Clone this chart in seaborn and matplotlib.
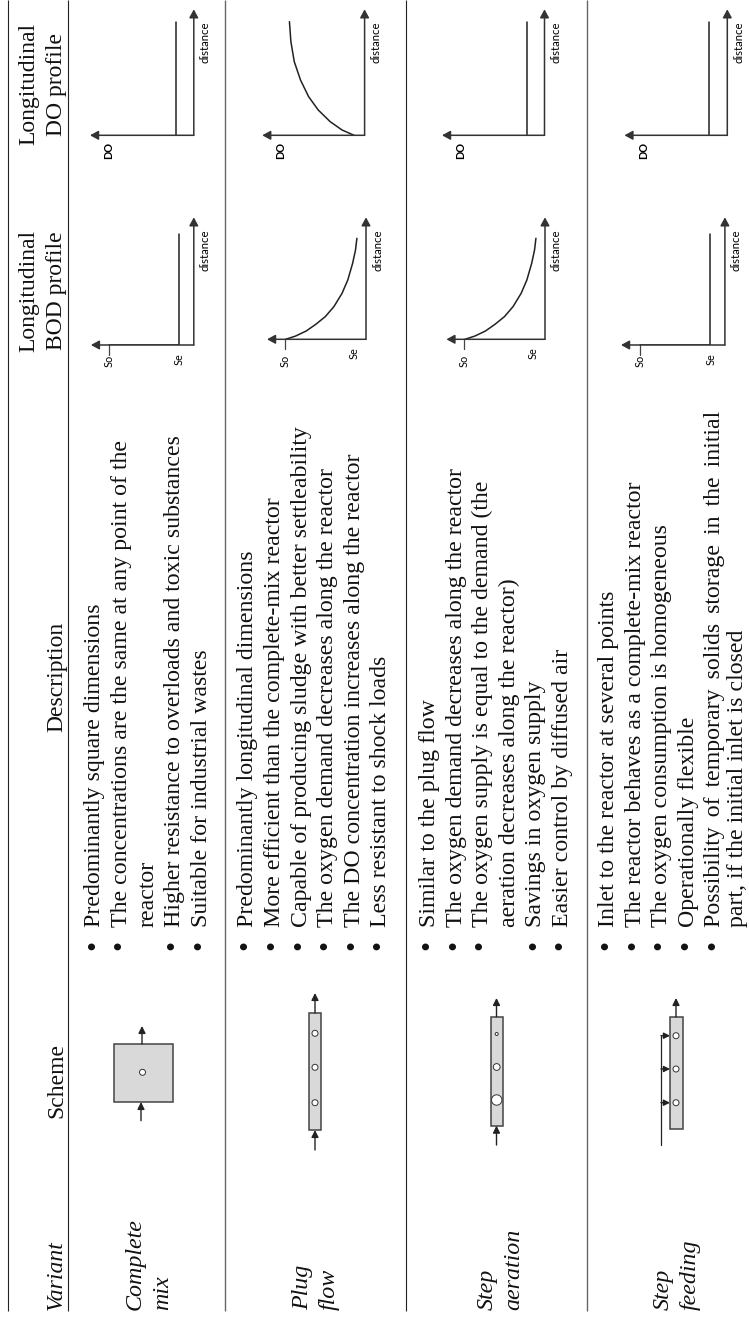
"""Activated sludge variants table, rotated page layout."""
import matplotlib
matplotlib.use("Agg")
import matplotlib.pyplot as plt
from matplotlib.patches import Rectangle, Circle
import seaborn as sns

W, H = 749, 1319
SERIF = ["Liberation Serif", "DejaVu Serif"]
INK = "#222222"

VARIANTS = [["Complete", "mix"], ["Plug", "flow"], ["Step", "aeration"], ["Step", "feeding"]]
HEADERS = ["Scheme", "Description"]
HEADER_PROFILES = [["Longitudinal", "BOD profile"], ["Longitudinal", "DO profile"]]

DESCRIPTIONS = [
    [("Predominantly square dimensions", True),
     ("The concentrations are the same at any point of the", True),
     ("reactor", False),
     ("Higher resistance to overloads and toxic substances", True),
     ("Suitable for industrial wastes", True)],
    [("Predominantly longitudinal dimensions", True),
     ("More efficient than the complete-mix reactor", True),
     ("Capable of producing sludge with better settleability", True),
     ("The oxygen demand decreases along the reactor", True),
     ("The DO concentration increases along the reactor", True),
     ("Less resistant to shock loads", True)],
    [("Similar to the plug flow", True),
     ("The oxygen demand decreases along the reactor", True),
     ("The oxygen supply is equal to the demand (the", True),
     ("aeration decreases along the reactor)", False),
     ("Savings in oxygen supply", True),
     ("Easier control by diffused air", True)],
    [("Inlet to the reactor at several points", True),
     ("The reactor behaves as a complete-mix reactor", True),
     ("The oxygen consumption is homogeneous", True),
     ("Operationally flexible", True),
     ("Possibility\u200a\u200a of\u200a\u200a temporary\u200a\u200a solids\u200a\u200a storage\u200a\u200a in\u200a\u200a the\u200a\u200a initial", True),
     ("part, if the initial inlet is closed", False)],
]

# profile curves, relative units
BOD_FLAT_CONC = [0.82, 0.14, 0.14]
BOD_FLAT_DIST = [0.0, 0.0, 0.867]
BOD_CURVE_CONC = [0.812, 0.71, 0.604, 0.507, 0.411, 0.324, 0.242, 0.184, 0.135, 0.106, 0.092]
BOD_CURVE_DIST = [0.0, 0.027, 0.068, 0.123, 0.186, 0.268, 0.377, 0.486, 0.623, 0.732, 0.828]
DO_FLAT_CONC = [0.175, 0.175]
DO_FLAT_DIST = [0.0, 0.902]
DO_CURVE_CONC = [0.103, 0.22, 0.336, 0.453, 0.547, 0.626, 0.687, 0.72, 0.734]
DO_CURVE_DIST = [0.0, 0.042, 0.108, 0.201, 0.307, 0.439, 0.585, 0.744, 0.902]
SO_LEVEL = 0.82
SE_LEVEL = [0.14, 0.12, 0.12, 0.134]

sns.set_theme(style="white")
plt.rcParams["font.family"] = SERIF

fig = plt.figure(figsize=(W / 100, H / 100), dpi=100)
ax = fig.add_axes([0, 0, 1, 1])
ax.set_xlim(0, W)
ax.set_ylim(H, 0)
ax.axis("off")


def vtext(x, y, s, size=17, style="normal", ha="left", family=None):
    ax.text(x, y, s, rotation=90, rotation_mode="anchor", ha=ha, va="baseline",
            fontsize=size, style=style, color="#111111", family=family or SERIF)


def arrow(x0, y0, x1, y1, lw=1.0, scale=7):
    ax.annotate("", xy=(x1, y1), xytext=(x0, y0),
                arrowprops=dict(arrowstyle="-|>,head_length=0.6,head_width=0.3",
                                mutation_scale=scale, lw=lw, color=INK,
                                shrinkA=0, shrinkB=0))


def small_label(p, s, xy, xycoords, dx, dy, **kw):
    p.annotate(s, xy=xy, xycoords=xycoords, xytext=(dx, dy), textcoords="offset pixels",
               rotation=90, ha="center", va="center", family="Lato", color="#000000", **kw)


def profile_panel(box, conc, dist, label_y, se_level=None):
    left, right, top, bottom = box
    p = fig.add_axes([left / W, 1 - bottom / H, (right - left) / W, (bottom - top) / H])
    p.patch.set_alpha(0)
    sns.lineplot(x=conc, y=dist, sort=False, estimator=None, color=INK, lw=1.1,
                 ax=p, legend=False)
    p.set_xlim(1, 0)
    p.set_ylim(0, 1)
    p.set_xticks([])
    p.set_yticks([])
    p.set_xlabel("")
    p.set_ylabel("")
    for s in p.spines.values():
        s.set_visible(False)
    style = dict(arrowstyle="-|>,head_length=0.55,head_width=0.3", mutation_scale=9,
                 lw=1.1, color="#333333", shrinkA=0, shrinkB=0)
    p.annotate("", xy=(0, 0), xytext=(1, 0), xycoords="axes fraction", arrowprops=style)
    p.annotate("", xy=(1, 1), xytext=(1, 0), xycoords="axes fraction", arrowprops=style)
    small_label(p, "distance", (1, (bottom - label_y) / (bottom - top)), "axes fraction",
                11.5, 0, fontsize=8.2)
    if se_level is None:
        small_label(p, "DO", (0.183, 0), "axes fraction", 0, -15.5, fontsize=7.8, weight="bold")
    else:
        tr = p.get_xaxis_transform()
        p.plot([SO_LEVEL, SO_LEVEL], [0, -10 / (bottom - top)], color="#444444", lw=0.9,
               transform=tr, clip_on=False)
        small_label(p, "So", (SO_LEVEL, 0), tr, 0, bottom - 361, fontsize=7.8)
        small_label(p, "Se", (se_level, 0), tr, 0, -14, fontsize=7.8)


# table rules
ax.vlines([7.6, 68.4, 405.6], 0, 1311, color="#222222", lw=0.8)
ax.vlines([225, 586.5], 0, 1311, color="#666666", lw=1.0)

# headers
vtext(62, 1310, "Variant", style="italic")
vtext(62, 1080, HEADERS[0], ha="center")
vtext(62, 677, HEADERS[1], ha="center")
for yc, lines in zip([291, 84], HEADER_PROFILES):
    vtext(34.4, yc, lines[0], ha="center")
    vtext(62, yc, lines[1], ha="center")

# variant names
name_x = [(141, 168), (308.6, 335), (492.8, 519), (669, 696)]
for (x0, x1), (a, b) in zip(name_x, VARIANTS):
    vtext(x0, 1310, a, size=17.3, style="italic")
    vtext(x1, 1310, b, size=17.3, style="italic")

# descriptions
first_line = [100.4, 253.3, 435, 614]
for x0, lines in zip(first_line, DESCRIPTIONS):
    for i, (line, bullet) in enumerate(lines):
        x = min(x0 + i * 26.6, 743.5)
        vtext(x, 927, line, size=17.2)
        if bullet:
            vtext(x + 0.5, 949.5, "\u2022", size=21)


# schemes
def tank(x0, x1, y0, y1, bubbles, cx, r=None):
    ax.add_patch(Rectangle((x0, y0), x1 - x0, y1 - y0, fc="#d9d9d9", ec="#444444", lw=1.1))
    for i, by in enumerate(bubbles):
        rad = r[i] if r else 3
        ax.add_patch(Circle((cx, by), rad, fc="white", ec="#333333", lw=0.7))


tank(113.8, 173, 1044, 1102.3, [1072.3], 142.5)
arrow(141, 1120.7, 141, 1102)
arrow(142, 1044, 142, 1026)

tank(309, 321, 1013.3, 1129.7, [1033.3, 1067.3, 1102.7], 315)
arrow(315, 1150, 315, 1130)
arrow(315, 1013, 315, 993)

tank(491, 503, 1016.7, 1125.7, [1034, 1067, 1100], 496.7, r=[1.5, 3.4, 5.2])
arrow(496.5, 1145, 496.5, 1125.7)
arrow(496.5, 1016.7, 496.5, 998)

tank(670, 683, 1017.3, 1129, [1035.7, 1069, 1102.7], 676)
arrow(676, 1017, 676, 998)
ax.plot([661, 661], [1145, 1035.7], color=INK, lw=0.9)
for fy in [1035.7, 1069, 1102.7]:
    arrow(661, fy, 670, fy, scale=6)

# BOD profiles
bod_boxes = [(90.9, 193.8, 217.3, 345), (267, 366, 217.3, 339.3),
             (446.4, 545, 217.3, 339.3), (621, 724.9, 217.3, 345)]
bod_shapes = [(BOD_FLAT_CONC, BOD_FLAT_DIST), (BOD_CURVE_CONC, BOD_CURVE_DIST),
              (BOD_CURVE_CONC, BOD_CURVE_DIST), (BOD_FLAT_CONC, BOD_FLAT_DIST)]
for box, (c, d), se in zip(bod_boxes, bod_shapes, SE_LEVEL):
    profile_panel(box, c, d, 250, se_level=se)

# DO profiles
do_boxes = [(90, 193.8, 9.3, 135.3), (262.2, 364.6, 9.3, 135.3),
            (442, 544.5, 9.3, 135.3), (624.4, 727.3, 9.3, 135.3)]
do_shapes = [(DO_FLAT_CONC, DO_FLAT_DIST), (DO_CURVE_CONC, DO_CURVE_DIST),
             (DO_FLAT_CONC, DO_FLAT_DIST), (DO_FLAT_CONC, DO_FLAT_DIST)]
for box, (c, d) in zip(do_boxes, do_shapes):
    profile_panel(box, c, d, 41.7)

fig.savefig("out.png", dpi=100)
